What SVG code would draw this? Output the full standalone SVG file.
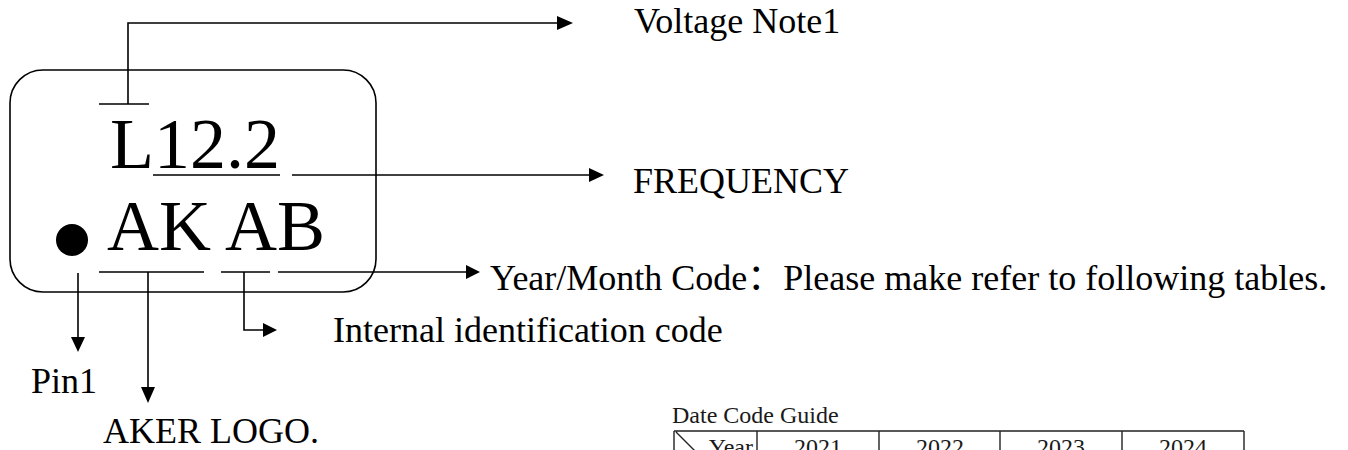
<svg xmlns="http://www.w3.org/2000/svg" width="1348" height="450" viewBox="0 0 1348 450">
<style>
.t{font-family:"Liberation Serif","Times New Roman","Noto Sans CJK SC",serif;fill:#000}
.big{font-size:72px}
.lbl{font-size:36px}
.ln{fill:none;stroke:#000;stroke-width:1.6}
.ah{fill:#000}
.tb{fill:none;stroke:#222;stroke-width:1.4}
.tt{font-family:"Liberation Serif","Times New Roman",serif;font-size:24px;fill:#1a1a1a}
</style>
<rect width="1348" height="450" fill="#fff"/>
<g id="marking">
<rect x="10" y="70" width="366" height="222" rx="33" ry="33" class="ln"/>
<text class="t big" x="110" y="168">L12.2</text>
<circle cx="72" cy="240" r="16" fill="#000"/>
<text class="t big" x="107" y="250">AK AB</text>
<path class="ln" d="M99,104 H149 M153,175 H280 M99,272 H204 M221,272 H270"/>
</g>
<g id="connectors">
<path class="ln" d="M128,104 V23 H558"/>
<polygon class="ah" points="557,16 573,23 557,30"/>
<path class="ln" d="M292,175 H590"/>
<polygon class="ah" points="589,168 604,175 589,182"/>
<path class="ln" d="M278,272 H467"/>
<polygon class="ah" points="466,265 480,272 466,279"/>
<path class="ln" d="M78,273 V338"/>
<polygon class="ah" points="71,337 78,352 85,337"/>
<path class="ln" d="M148,272 V388"/>
<polygon class="ah" points="141,387 148,403 155,387"/>
<path class="ln" d="M244,272 V330 H264"/>
<polygon class="ah" points="263,323 277,330 263,337"/>
</g>
<g id="label-voltage"><text class="t lbl" x="634" y="33">Voltage Note1</text></g>
<g id="label-frequency"><text class="t lbl" x="633" y="193">FREQUENCY</text></g>
<g id="label-yearmonth"><text class="t lbl" x="490" y="290">Year/Month Code：Please make refer to following tables.</text></g>
<g id="label-internal"><text class="t lbl" x="333" y="342">Internal identification code</text></g>
<g id="label-pin1"><text class="t lbl" x="31" y="393">Pin1</text></g>
<g id="label-logo"><text class="t lbl" x="103" y="443">AKER LOGO.</text></g>
<g id="date-code-table">
<text class="tt" x="672" y="423">Date Code Guide</text>
<path class="tb" d="M674,431 H1244 M674,431 V460 M757,431 V460 M879,431 V460 M1000,431 V460 M1122,431 V460 M1244,431 V460 M676,432 L704,460"/>
<text class="tt" x="753" y="455" text-anchor="end">Year</text>
<text class="tt" x="818" y="455" text-anchor="middle">2021</text>
<text class="tt" x="940" y="455" text-anchor="middle">2022</text>
<text class="tt" x="1061" y="455" text-anchor="middle">2023</text>
<text class="tt" x="1183" y="455" text-anchor="middle">2024</text>
</g>
</svg>
